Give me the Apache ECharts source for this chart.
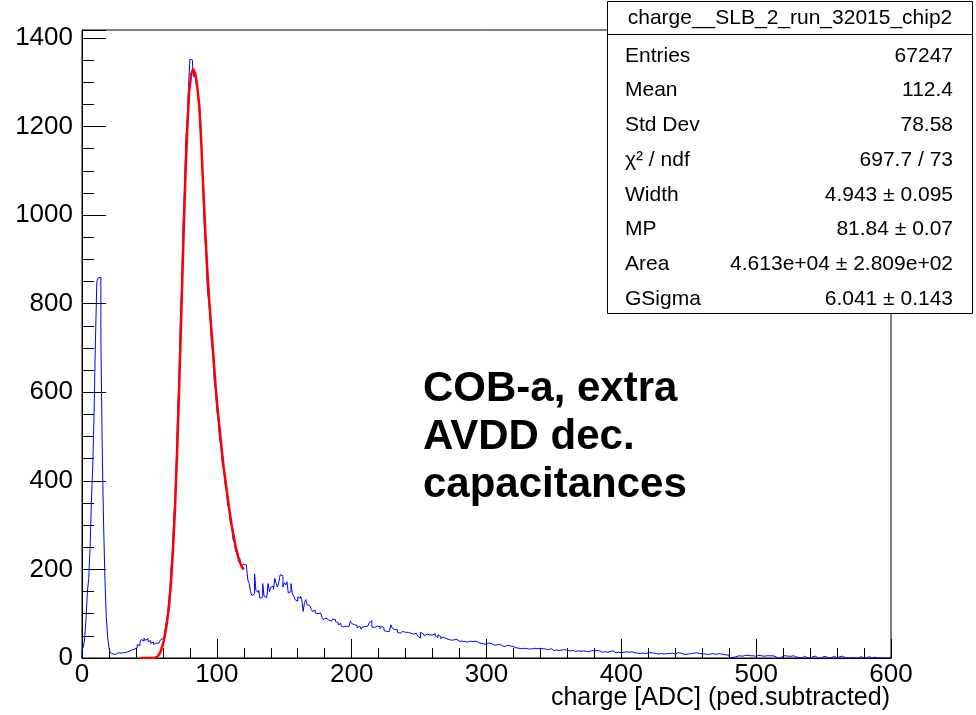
<!DOCTYPE html>
<html>
<head>
<meta charset="utf-8">
<script src="https://cdn.jsdelivr.net/npm/echarts@6/dist/echarts.min.js"></script>
<style>
html,body{margin:0;padding:0;background:#fff;}
#chart{width:976px;height:715px;}
</style>
</head>
<body>
<div id="chart"></div>
<script>
// ---- data (histogram: 1 ADC bins, 0..600) ----
const BIN_WIDTH = 1;
const X_MIN = 0;
const pedestalCounts = [ // ADC 0-59
  18, 25, 45, 90, 150, 180, 250, 355, 435, 560,
  720, 850, 858, 860, 722, 470, 305, 180, 93, 48,
  22, 12, 9, 11, 8, 10, 12, 9, 11, 10,
  12, 10, 13, 11, 15, 14, 18, 16, 20, 19,
  24, 30, 28, 36, 42, 38, 45, 40, 44, 37,
  39, 33, 36, 31, 34, 30, 33, 36, 40, 44
];
const mipCounts = [ // ADC 60-119
  42, 50, 72, 88, 118, 148, 200, 240, 310, 365,
  455, 560, 640, 770, 850, 985, 1060, 1170, 1215, 1290,
  1352, 1350, 1335, 1312, 1318, 1290, 1280, 1255, 1215, 1120,
  1030, 955, 910, 830, 805, 770, 710, 690, 630, 605,
  560, 540, 495, 480, 440, 430, 395, 380, 345, 340,
  305, 300, 268, 262, 240, 236, 218, 225, 208, 212
];
const tailCounts = [ // ADC 120-299
  214, 210, 205, 176, 168, 150, 141, 145, 190, 152,
  148, 153, 135, 138, 168, 140, 136, 138, 168, 150,
  160, 162, 155, 180, 168, 160, 172, 188, 186, 160,
  170, 165, 172, 147, 150, 168, 145, 140, 132, 128,
  138, 135, 140, 132, 105, 125, 132, 120, 118, 117,
  110, 105, 108, 102, 100, 104, 102, 98, 92, 87,
  90, 87, 86, 84, 83, 80, 88, 87, 82, 80,
  75, 78, 73, 70, 71, 72, 74, 71, 70, 83,
  78, 75, 76, 74, 68, 72, 68, 65, 70, 71,
  69, 72, 74, 80, 84, 70, 69, 67, 72, 70,
  71, 66, 72, 68, 62, 60, 64, 60, 62, 75,
  68, 64, 62, 64, 58, 56, 55, 60, 62, 58,
  62, 58, 61, 56, 60, 54, 57, 56, 52, 49,
  45, 58, 55, 56, 50, 54, 57, 52, 50, 52,
  48, 55, 50, 46, 52, 49, 44, 47, 45, 44,
  46, 42, 45, 40, 44, 41, 39, 42, 40, 38,
  41, 38, 40, 37, 39, 36, 40, 38, 35, 37,
  36, 38, 34, 35, 37, 33, 35, 32, 34, 31
];
const farTailCounts = [ // ADC 300-599
  33, 34, 30, 32, 31, 29, 33, 30, 28, 31,
  29, 27, 30, 26, 28, 29, 25, 27, 24, 26,
  25, 23, 24, 22, 25, 21, 23, 22, 24, 21,
  22, 20, 23, 21, 19, 22, 20, 21, 19, 22,
  20, 21, 18, 20, 22, 19, 18, 21, 19, 17,
  20, 18, 19, 17, 21, 18, 16, 19, 18, 17,
  18, 16, 19, 17, 18, 15, 17, 16, 18, 15,
  17, 16, 18, 15, 17, 14, 16, 17, 15, 16,
  15, 17, 14, 16, 15, 13, 16, 14, 15, 13,
  14, 15, 13, 16, 14, 12, 15, 13, 14, 12,
  14, 13, 12, 14, 11, 13, 12, 14, 11, 12,
  13, 11, 12, 10, 13, 11, 12, 10, 11, 12,
  11, 12, 10, 11, 13, 10, 11, 9, 12, 10,
  11, 9, 12, 10, 11, 10, 9, 11, 10, 9,
  10, 12, 9, 11, 10, 9, 11, 8, 10, 9,
  11, 10, 9, 11, 10, 12, 9, 10, 8, 10,
  10, 9, 11, 8, 10, 9, 8, 10, 9, 8,
  9, 10, 8, 9, 7, 8, 9, 7, 8, 6,
  0, 1, 0, 2, 0, 4, 6, 5, 6, 4,
  5, 6, 4, 6, 3, 5, 6, 5, 6, 4,
  5, 6, 4, 5, 5, 4, 6, 5, 4, 5,
  4, 5, 3, 4, 2, 0, 1, 0, 4, 5,
  4, 5, 3, 4, 5, 4, 3, 5, 4, 2,
  0, 1, 0, 0, 3, 4, 3, 0, 1, 0,
  2, 3, 0, 4, 3, 0, 1, 0, 0, 3,
  4, 3, 2, 0, 0, 1, 3, 4, 3, 0,
  0, 3, 4, 4, 0, 1, 0, 0, 2, 0,
  0, 1, 3, 0, 0, 0, 2, 3, 0, 0,
  1, 0, 0, 3, 4, 0, 0, 2, 3, 0,
  0, 1, 0, 0, 2, 0, 0, 0, 0, 1
];
// fit curve (Landau x Gauss)
const fitX = [43, 50, 54, 56, 58, 60, 61.5, 63, 64.5, 66, 67.5, 69, 70.5, 72, 73.5, 75, 76.5, 78, 79.5, 81, 82.5, 84, 85.5, 87, 88.5, 90, 91.5, 93, 94.5, 96, 97.5, 99, 100.5, 102, 103.5, 105, 106.5, 108, 109.5, 111, 112.5, 114, 115.5, 117, 118.5, 120];
const fitY = [0, 0, 0.5, 3, 12, 30, 52, 80, 115, 170, 245, 340, 460, 605, 760, 920, 1070, 1190, 1280, 1318, 1330, 1320, 1290, 1245, 1160, 1058, 960, 872, 800, 740, 680, 618, 565, 520, 475, 432, 398, 364, 330, 300, 275, 251, 232, 217, 206, 200];

const statsTitle = 'charge__SLB_2_run_32015_chip2';
const statLabels = ['Entries', 'Mean', 'Std Dev', 'χ² / ndf', 'Width', 'MP', 'Area', 'GSigma'];
const statValues = ['67247', '112.4', '78.58', '697.7 / 73', '4.943 ± 0.095', '81.84 ± 0.07', '4.613e+04 ± 2.809e+02', '6.041 ± 0.143'];
const noteLines = ['COB-a, extra', 'AVDD dec.', 'capacitances'];
const xTitle = 'charge [ADC] (ped.subtracted)';

// ---- build ----
const counts = pedestalCounts.concat(mipCounts, tailCounts, farTailCounts);
const histData = [[X_MIN, 0]];
counts.forEach((c, i) => histData.push([X_MIN + i * BIN_WIDTH, c]));
histData.push([X_MIN + counts.length * BIN_WIDTH, counts[counts.length - 1]]);
const fitData = fitX.map((x, i) => [x, fitY[i]]);

const FONT = '"Liberation Sans", Arial, Helvetica, sans-serif';
const chart = echarts.init(document.getElementById('chart'), null, {renderer: 'canvas'});

const graphics = [];
// stats box
const bx = 607.5, by = 1.5, bw = 365, bh = 312;
graphics.push({type: 'rect', shape: {x: bx, y: by, width: bw, height: bh}, style: {fill: '#fff', stroke: '#000', lineWidth: 1}, z: 100});
graphics.push({type: 'line', shape: {x1: bx, y1: 34.5, x2: bx + bw, y2: 34.5}, style: {stroke: '#000', lineWidth: 1}, z: 101});
graphics.push({type: 'text', style: {text: statsTitle, x: bx + bw / 2, y: 18, textAlign: 'center', textVerticalAlign: 'middle', font: '21px ' + FONT, fill: '#000'}, z: 101});
const rowY0 = 56, rowDY = 34.7;
statLabels.forEach((lab, i) => {
  graphics.push({type: 'text', style: {text: lab, x: 625, y: rowY0 + i * rowDY, textAlign: 'left', textVerticalAlign: 'middle', font: '21px ' + FONT, fill: '#000'}, z: 101});
  graphics.push({type: 'text', style: {text: statValues[i], x: 953, y: rowY0 + i * rowDY, textAlign: 'right', textVerticalAlign: 'middle', font: '21px ' + FONT, fill: '#000'}, z: 101});
});
// note text
noteLines.forEach((t, i) => {
  graphics.push({type: 'text', style: {text: t, x: 423, y: 389 + i * 48, textAlign: 'left', textVerticalAlign: 'middle', font: 'bold 42px ' + FONT, fill: '#000'}, z: 50});
});
// x axis title
graphics.push({type: 'text', style: {text: xTitle, x: 890, y: 698, textAlign: 'right', textVerticalAlign: 'middle', font: '25px ' + FONT, fill: '#000'}, z: 50});

chart.setOption({
  animation: false,
  backgroundColor: '#fff',
  grid: {left: 82, top: 30, right: 85, bottom: 57, show: true, borderColor: '#000', borderWidth: 1, backgroundColor: 'transparent'},
  xAxis: {
    type: 'value', min: 0, max: 600, interval: 100,
    axisLine: {show: true, onZero: false, lineStyle: {color: '#000', width: 1}},
    axisTick: {show: true, inside: true, length: 19, lineStyle: {color: '#000'}},
    minorTick: {show: true, splitNumber: 5, length: 10, lineStyle: {color: '#000'}},
    axisLabel: {color: '#000', fontSize: 26, fontFamily: FONT, margin: 4, formatter: v => String(v)},
    splitLine: {show: false}
  },
  yAxis: {
    type: 'value', min: 0, max: 1418, interval: 200,
    axisLine: {show: true, onZero: false, lineStyle: {color: '#000', width: 1}},
    axisTick: {show: true, inside: true, length: 24, lineStyle: {color: '#000'}},
    minorTick: {show: true, splitNumber: 4, length: 12, lineStyle: {color: '#000'}},
    axisLabel: {color: '#000', fontSize: 26, fontFamily: FONT, margin: 9, showMaxLabel: false, formatter: v => String(v)},
    splitLine: {show: false}
  },
  series: [
    {type: 'line', data: histData, step: 'end', symbol: 'none', lineStyle: {color: '#0000ff', width: 1}, z: 2, clip: true},
    {type: 'line', data: fitData, symbol: 'none', smooth: false, lineStyle: {color: '#ff0000', width: 2.5}, z: 3, clip: true}
  ],
  graphic: graphics
});
</script>
</body>
</html>
